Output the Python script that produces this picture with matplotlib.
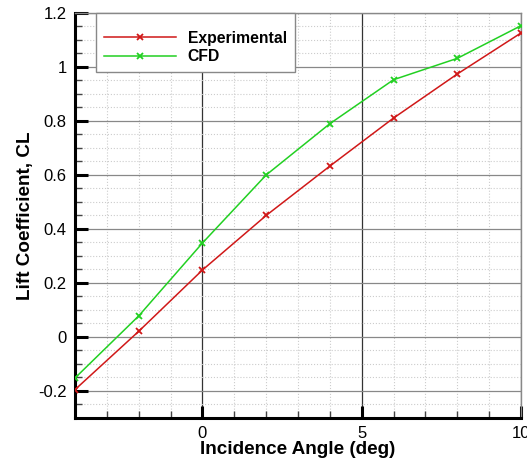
import numpy as np
import matplotlib.pyplot as plt
from matplotlib.ticker import MultipleLocator

plt.rcParams['font.family'] = ['Liberation Sans', 'DejaVu Sans']

# incidence angle (deg)
alpha = [-4, -2, 0, 2, 4, 6, 8, 10]
# lift coefficient
cl_exp = [-0.195, 0.021, 0.248, 0.45, 0.633, 0.811, 0.974, 1.126]
cl_cfd = [-0.152, 0.078, 0.348, 0.60, 0.79, 0.953, 1.032, 1.153]

fig = plt.figure(figsize=(5.27, 4.61), dpi=100)
ax = fig.add_axes([0.1423, 0.0933, 0.8463, 0.8785])

ax.plot(alpha, cl_exp, color='#d01818', lw=1.1, marker='x', ms=5, mew=1.3,
        label='Experimental', zorder=3)
ax.plot(alpha, cl_cfd, color='#22d022', lw=1.1, marker='x', ms=5, mew=1.3,
        label='CFD', zorder=3)

ax.set_xlim(-4, 10)
ax.set_ylim(-0.3, 1.2)
ax.xaxis.set_major_locator(MultipleLocator(5))
ax.xaxis.set_minor_locator(MultipleLocator(1))
ax.yaxis.set_minor_locator(MultipleLocator(0.05))
ax.set_yticks(np.arange(-0.2, 1.21, 0.2))
ax.set_yticklabels(['-0.2', '0', '0.2', '0.4', '0.6', '0.8', '1', '1.2'])

# grids
ax.grid(True, which='minor', color='#cccccc', ls=':', lw=0.8)
ax.grid(True, which='major', axis='y', color='#888888', ls='-', lw=0.9)
ax.grid(True, which='major', axis='x', color='#333333', ls='-', lw=0.9)
ax.set_axisbelow(True)

for s in ['left', 'bottom']:
    ax.spines[s].set_linewidth(2.2)
    ax.spines[s].set_color('black')
for s in ['top', 'right']:
    ax.spines[s].set_linewidth(1.0)
    ax.spines[s].set_color('#888888')

ax.tick_params(which='major', direction='in', length=9, width=2.2,
               labelsize=12, pad=6, colors='black')
ax.tick_params(which='minor', direction='in', length=5, width=1.0, color='#444444')

ax.set_xlabel('Incidence Angle (deg)', fontsize=13.6, fontweight='bold', labelpad=0)
ax.set_ylabel('Lift Coefficient, CL', fontsize=13.6, fontweight='bold', labelpad=3)

leg = ax.legend(loc='upper left', bbox_to_anchor=(0.047, 1.0), borderaxespad=0,
                fancybox=False, framealpha=1, edgecolor='#888888',
                prop={'weight': 'bold', 'size': 11.3}, handlelength=4.6,
                handletextpad=0.75, borderpad=0.5, labelspacing=0.2,
                title=' ', title_fontsize=6)
leg.get_frame().set_linewidth(1.0)

fig.savefig('out.png', dpi=100)
